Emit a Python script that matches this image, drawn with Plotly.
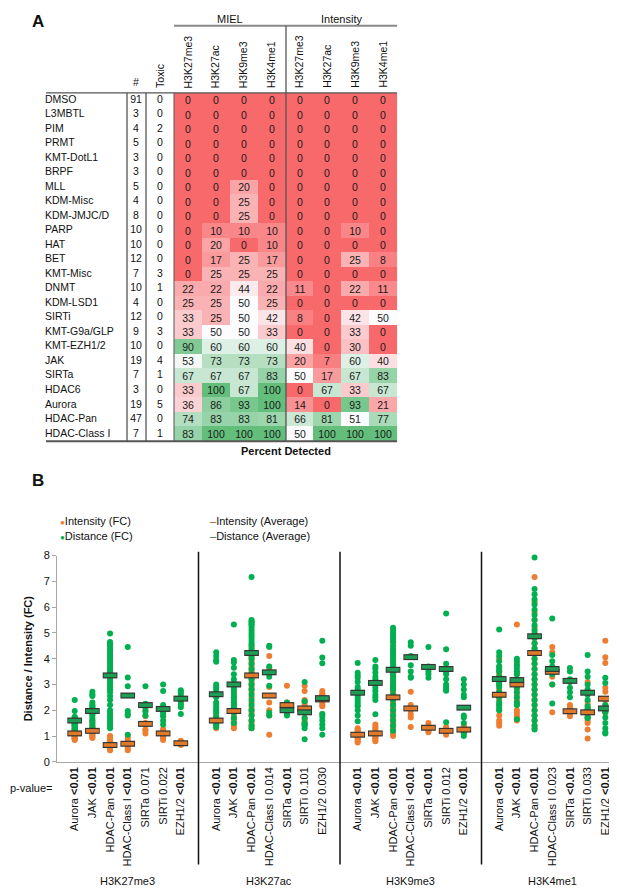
import plotly.graph_objects as go

W, H = 617, 890

# ---------------- panel A: percent detected table ----------------
row_names = ["DMSO", "L3MBTL", "PIM", "PRMT", "KMT-DotL1", "BRPF", "MLL", "KDM-Misc",
             "KDM-JMJC/D", "PARP", "HAT", "BET", "KMT-Misc", "DNMT", "KDM-LSD1", "SIRTi",
             "KMT-G9a/GLP", "KMT-EZH1/2", "JAK", "SIRTa", "HDAC6", "Aurora", "HDAC-Pan",
             "HDAC-Class I"]
n_compounds = [91, 3, 4, 5, 3, 3, 5, 4, 8, 10, 10, 12, 7, 10, 4, 12, 9, 10, 19, 7, 3, 19, 47, 7]
n_toxic = [0, 0, 2, 0, 0, 0, 0, 0, 0, 0, 0, 0, 3, 1, 0, 0, 3, 0, 4, 1, 0, 5, 0, 1]
marks = ["H3K27me3", "H3K27ac", "H3K9me3", "H3K4me1"]
miel_pct = [
    [0, 0, 0, 0], [0, 0, 0, 0], [0, 0, 0, 0], [0, 0, 0, 0], [0, 0, 0, 0], [0, 0, 0, 0],
    [0, 0, 20, 0], [0, 0, 25, 0], [0, 0, 25, 0], [0, 10, 10, 10], [0, 20, 0, 10],
    [0, 17, 25, 17], [0, 25, 25, 25], [22, 22, 44, 22], [25, 25, 50, 25], [33, 25, 50, 42],
    [33, 50, 50, 33], [90, 60, 60, 60], [53, 73, 73, 73], [67, 67, 67, 83],
    [33, 100, 67, 100], [36, 86, 93, 100], [74, 83, 83, 81], [83, 100, 100, 100],
]
intensity_pct = [
    [0, 0, 0, 0], [0, 0, 0, 0], [0, 0, 0, 0], [0, 0, 0, 0], [0, 0, 0, 0], [0, 0, 0, 0],
    [0, 0, 0, 0], [0, 0, 0, 0], [0, 0, 0, 0], [0, 0, 10, 0], [0, 0, 0, 0],
    [0, 0, 25, 8], [0, 0, 0, 0], [11, 0, 22, 11], [0, 0, 0, 0], [8, 0, 42, 50],
    [0, 0, 33, 0], [40, 0, 30, 0], [20, 7, 60, 40], [50, 17, 67, 83],
    [0, 67, 33, 67], [14, 0, 93, 21], [66, 81, 51, 77], [50, 100, 100, 100],
]

# ---------------- panel B: fold changes per class ----------------
classes = ["Aurora", "JAK", "HDAC-Pan", "HDAC-Class I", "SIRTa", "SIRTi", "EZH1/2"]

pval_h3k27me3 = ["<0.01", "<0.01", "<0.01", "<0.01", "0.071", "0.022", "<0.01"]
pval_h3k27ac = ["<0.01", "<0.01", "<0.01", "0.014", "<0.01", "0.101", "0.030"]
pval_h3k9me3 = ["<0.01", "<0.01", "<0.01", "<0.01", "<0.01", "0.012", "<0.01"]
pval_h3k4me1 = ["<0.01", "<0.01", "<0.01", "0.023", "<0.01", "0.033", "<0.01"]

int_h3k27me3 = [
    [1.25, 1.2, 1.18, 1.15, 1.12, 1.1, 1.08, 1.05, 1.02, 1.0, 0.98, 0.95, 0.92, 0.9, 0.88, 0.85, 1.1, 1.05, 1.3],
    [1.6, 1.5, 1.4, 1.35, 1.3, 1.25, 1.22, 1.2, 1.18, 1.15, 1.12, 1.1, 1.05, 1.0, 0.95, 0.92, 1.3, 1.2],
    [1.0, 0.95, 0.9, 0.85, 0.8, 0.78, 0.75, 0.72, 0.7, 0.68, 0.65, 0.63, 0.6, 0.58, 0.55, 0.52, 0.5, 0.48, 0.45, 0.62, 0.6, 0.58, 0.55, 0.7, 0.67],
    [1.0, 0.9, 0.8, 0.7, 0.6, 0.5, 0.45],
    [2.0, 1.77, 1.5, 1.45, 1.2, 1.25, 1.1],
    [1.27, 1.2, 1.15, 1.1, 1.05, 1.0, 0.95, 0.9, 0.85, 1.1, 1.2, 1.0],
    [0.82, 0.78, 0.75, 0.72, 0.7, 0.68, 0.65, 0.72, 0.7, 0.76],
]
dist_h3k27me3 = [
    [2.4, 1.97, 1.75, 1.7, 1.65, 1.62, 1.58, 1.55, 1.52, 1.5, 1.48, 1.45, 1.42, 1.4, 1.38, 1.35, 1.3, 1.25, 1.7],
    [2.72, 2.62, 2.55, 2.3, 2.2, 2.15, 2.05, 2.0, 1.95, 1.9, 1.85, 1.8, 1.7, 1.6, 1.5, 1.4, 1.3, 1.2, 2.1],
    [4.98, 4.65, 4.6, 4.55, 4.5, 4.4, 4.3, 4.2, 4.1, 4.0, 3.9, 3.8, 3.7, 3.6, 3.5, 3.45, 3.4, 3.3, 3.2, 3.1, 3.0,
     2.9, 2.8, 2.7, 2.55, 2.4, 2.2, 2.0, 1.9, 1.8, 1.7, 1.6, 1.5, 1.4, 1.3],
    [4.45, 3.27, 2.93, 1.97, 1.8, 1.85, 1.05],
    [2.93, 2.25, 2.2, 2.15, 1.8, 1.95, 2.1],
    [3.0, 2.75, 2.1, 2.05, 2.0, 1.95, 1.77, 1.6, 1.45, 1.8, 2.2, 1.9],
    [2.78, 2.7, 2.6, 2.5, 2.45, 2.35, 2.25, 2.12, 1.85, 2.2],
]
int_avg_h3k27me3 = [1.1, 1.2, 0.65, 0.7, 1.47, 1.1, 0.72]
dist_avg_h3k27me3 = [1.6, 1.97, 3.35, 2.57, 2.2, 2.05, 2.45]

int_h3k27ac = [
    [2.0, 1.9, 1.8, 1.7, 1.65, 1.6, 1.55, 1.5, 1.45, 1.4, 1.35, 1.3, 1.6, 1.55, 1.5],
    [2.3, 2.2, 2.1, 2.05, 2.0, 1.95, 1.9, 1.8, 1.7, 1.6, 1.5, 1.4, 1.3, 2.5, 2.7],
    [4.5, 4.3, 4.1, 4.0, 3.9, 3.8, 3.7, 3.6, 3.5, 3.45, 3.4, 3.3, 3.2, 3.1, 3.0, 2.9, 2.8, 2.7, 2.5, 2.3,
     2.1, 2.0, 1.9, 1.8, 1.6, 1.5, 1.4, 1.3],
    [4.1, 3.6, 2.9, 2.0, 1.8, 1.05, 2.3],
    [2.95, 2.3, 2.2, 2.1, 2.0, 1.9, 1.95],
    [2.95, 2.75, 2.4, 2.1, 1.9, 1.7, 1.6, 1.5, 1.45, 2.0, 2.2, 2.3],
    [2.75, 2.65, 2.55, 2.5, 2.3, 2.2, 2.15, 1.85, 2.4, 2.6],
]
dist_h3k27ac = [
    [4.25, 4.1, 3.95, 3.88, 3.0, 2.9, 2.8, 2.7, 2.6, 2.5, 2.3, 2.2, 2.1, 2.0, 1.9, 1.75, 1.6, 1.45, 1.35],
    [5.33, 3.95, 3.85, 3.65, 3.4, 3.2, 3.05, 2.95, 2.85, 2.75, 2.6, 2.5, 2.4, 2.3, 2.2, 2.1, 1.9, 1.7, 1.5],
    [7.17, 5.5, 5.45, 5.4, 5.35, 5.3, 5.2, 5.1, 5.0, 4.9, 4.8, 4.7, 4.6, 4.5, 4.4, 4.3, 4.2, 4.1, 4.0, 3.8,
     3.6, 3.4, 3.2, 3.0, 2.8, 2.6, 2.4, 2.2, 2.0, 1.8, 1.6, 1.4, 1.3],
    [4.5, 4.45, 3.7, 3.3, 2.95, 1.9, 1.8],
    [2.3, 2.1, 2.0, 1.95, 1.9, 1.85, 1.8],
    [3.1, 2.35, 2.0, 1.95, 1.9, 1.45, 1.4, 1.3, 0.87, 1.5, 1.7, 2.05],
    [4.7, 4.05, 3.82, 2.45, 1.75, 1.6, 1.45, 1.3, 1.05, 1.85],
]
int_avg_h3k27ac = [1.6, 1.97, 3.35, 2.57, 2.2, 2.07, 2.42]
dist_avg_h3k27ac = [2.62, 3.0, 4.22, 3.47, 2.0, 1.92, 2.47]

int_h3k9me3 = [
    [1.25, 1.2, 1.15, 1.1, 1.05, 1.0, 0.95, 0.9, 0.85, 0.8, 0.75, 1.1, 1.05, 1.0, 1.3],
    [1.45, 1.35, 1.3, 1.2, 1.15, 1.1, 1.05, 1.0, 0.95, 0.9, 0.85, 0.8, 1.1, 1.0],
    [3.6, 3.4, 3.2, 3.0, 2.9, 2.8, 2.7, 2.6, 2.5, 2.4, 2.3, 2.2, 2.1, 2.0, 1.9, 1.8, 1.7, 1.6, 1.5, 1.4,
     1.3, 1.2, 1.1, 1.0, 2.6, 2.4],
    [2.72, 2.0, 1.84, 1.72, 1.35, 2.1, 2.2],
    [1.5, 1.4, 1.35, 1.3, 1.25, 1.2, 1.15],
    [1.35, 1.3, 1.25, 1.2, 1.18, 1.15, 1.1, 1.05, 1.2, 1.25, 1.15, 1.3],
    [1.4, 1.35, 1.3, 1.25, 1.2, 1.15, 1.1, 1.3, 1.25, 1.2],
]
dist_h3k9me3 = [
    [3.83, 3.45, 3.35, 3.25, 3.1, 2.9, 2.8, 2.7, 2.6, 2.5, 2.4, 2.3, 2.2, 2.15, 1.57, 2.0, 1.8],
    [3.95, 3.7, 3.6, 3.45, 3.3, 3.2, 3.0, 2.87, 2.75, 2.6, 2.5, 2.4, 1.84, 3.1],
    [5.2, 5.1, 5.0, 4.9, 4.8, 4.7, 4.64, 4.5, 4.4, 4.3, 4.2, 4.1, 4.0, 3.9, 3.8, 3.7, 3.6, 3.5, 3.4, 3.3,
     3.2, 3.1, 3.0, 2.9, 2.8, 2.6, 2.4, 2.2, 2.0, 1.8, 1.6, 1.4, 1.2],
    [4.64, 4.5, 4.1, 3.75, 3.5, 3.3, 3.26],
    [4.45, 3.7, 3.65, 3.5, 3.4, 3.26, 3.6],
    [5.75, 4.37, 3.6, 3.0, 2.9, 2.76, 1.53, 3.2, 3.4, 3.8, 3.5, 2.8],
    [3.2, 3.0, 2.8, 2.6, 2.5, 1.8, 1.72, 1.5, 1.1, 1.0],
]
int_avg_h3k9me3 = [1.05, 1.1, 2.5, 2.07, 1.32, 1.2, 1.25]
dist_avg_h3k9me3 = [2.68, 3.06, 3.57, 4.06, 3.68, 3.6, 2.1]

int_h3k4me1 = [
    [4.0, 3.7, 3.5, 3.2, 3.0, 2.8, 2.6, 2.4, 2.2, 2.0, 1.8, 1.6, 1.5, 1.4, 2.5, 2.7, 3.4],
    [5.33, 3.8, 3.5, 3.2, 3.0, 2.8, 2.6, 2.4, 2.2, 2.0, 1.9, 1.8, 1.7, 1.6, 3.4],
    [7.17, 6.2, 5.8, 5.5, 5.2, 5.0, 4.8, 4.6, 4.4, 4.2, 4.0, 3.8, 3.6, 3.4, 3.2, 3.0, 2.8, 2.6, 2.4, 2.2,
     2.0, 1.8, 1.6, 1.4, 1.3],
    [4.45, 4.25, 3.6, 3.5, 3.3, 1.92, 3.0],
    [2.2, 2.1, 2.0, 1.95, 1.77, 1.85, 2.05],
    [3.1, 2.34, 2.1, 1.9, 1.5, 1.25, 0.9, 1.7, 2.0, 1.8, 2.2, 1.6],
    [4.7, 4.06, 3.83, 2.87, 2.72, 2.4, 2.2, 2.0, 1.9, 2.1],
]
dist_h3k4me1 = [
    [5.13, 4.25, 4.1, 3.9, 3.7, 3.5, 3.3, 3.1, 2.9, 2.7, 2.5, 2.3, 2.2, 2.1, 2.0, 3.6, 3.0],
    [4.0, 3.9, 3.75, 3.64, 3.4, 3.2, 3.0, 2.87, 2.7, 2.5, 2.3, 2.2, 1.65, 3.5],
    [7.93, 6.7, 6.5, 6.3, 6.1, 5.9, 5.7, 5.5, 5.3, 5.1, 4.95, 4.8, 4.6, 4.4, 4.2, 4.0, 3.8, 3.6, 3.4, 3.2,
     3.0, 2.8, 2.6, 2.4, 2.2, 2.0, 1.8, 1.6, 1.4, 1.25],
    [5.56, 4.14, 3.9, 3.7, 3.4, 3.0, 2.26],
    [3.64, 3.5, 3.2, 2.87, 2.7, 2.5, 3.1],
    [4.14, 3.3, 3.0, 2.8, 2.6, 2.15, 2.03, 1.72, 1.7, 2.0, 3.5, 2.4],
    [3.26, 3.06, 1.92, 1.72, 1.5, 1.3, 1.15, 1.1, 2.0, 2.2],
]
int_avg_h3k4me1 = [2.6, 3.0, 4.22, 3.49, 1.96, 1.92, 2.45]
dist_avg_h3k4me1 = [3.21, 3.17, 4.87, 3.6, 3.14, 2.68, 2.07]

# ---------------- styling ----------------
FONT = "Liberation Sans, Arial, sans-serif"
ORANGE = "#ED7D31"
GREEN = "#00B050"
ORANGE_AVG = "#E07A2A"
GREEN_AVG = "#1E9E55"
OUTLINE = "#333333"


def px(x):
    return x / W


def py(y):
    return 1 - y / H


fig = go.Figure()

# ---- table geometry (pixels) ----
CW = 27.875          # column width
COL0 = 180           # centre of first value column
ROW_TOP, ROW_BOT = 80, 433


def col_px(i):
    return COL0 + CW * i


z = [m + it for m, it in zip(miel_pct, intensity_pct)]
fig.add_trace(go.Heatmap(
    z=z, x=list(range(8)), y=row_names,
    colorscale=[[0, "#F8696B"], [0.5, "#FCFCFF"], [1, "#63BE7B"]],
    zmin=0, zmax=100, showscale=False,
    texttemplate="%{z}", textfont=dict(size=10.5, color="#1a1a1a", family=FONT),
    hoverinfo="skip", xaxis="x", yaxis="y",
))
fig.add_trace(go.Scatter(
    x=[(37 - COL0) / CW] * len(row_names), y=row_names, text=row_names,
    mode="text", textposition="middle right",
    textfont=dict(size=10.5, color="#111", family=FONT),
    showlegend=False, hoverinfo="skip", xaxis="x", yaxis="y",
))
fig.add_trace(go.Scatter(
    x=[(128 - COL0) / CW] * len(row_names), y=row_names, text=[str(v) for v in n_compounds],
    mode="text", textfont=dict(size=10.5, color="#111", family=FONT),
    showlegend=False, hoverinfo="skip", xaxis="x", yaxis="y",
))
fig.add_trace(go.Scatter(
    x=[(152 - COL0) / CW] * len(row_names), y=row_names, text=[str(v) for v in n_toxic],
    mode="text", textfont=dict(size=10.5, color="#111", family=FONT),
    showlegend=False, hoverinfo="skip", xaxis="x", yaxis="y",
))

# ---- panel B scatter ----
int_sets = [int_h3k27me3, int_h3k27ac, int_h3k9me3, int_h3k4me1]
dist_sets = [dist_h3k27me3, dist_h3k27ac, dist_h3k9me3, dist_h3k4me1]
int_avgs = [int_avg_h3k27me3, int_avg_h3k27ac, int_avg_h3k9me3, int_avg_h3k4me1]
dist_avgs = [dist_avg_h3k27me3, dist_avg_h3k27ac, dist_avg_h3k9me3, dist_avg_h3k4me1]
pvals = [pval_h3k27me3, pval_h3k27ac, pval_h3k9me3, pval_h3k4me1]

positions, ticktext = [], []
for g in range(4):
    for i, c in enumerate(classes):
        positions.append(8 * g + i + 1)
        p = pvals[g][i]
        if p.startswith("<"):
            ticktext.append(f"{c} <b>&lt;{p[1:]}</b>")
        else:
            ticktext.append(f"{c} {p}")


def flatten(sets):
    xs, ys = [], []
    for g, s in enumerate(sets):
        for i, vals in enumerate(s):
            xs += [8 * g + i + 1] * len(vals)
            ys += vals
    return xs, ys


def flat_avg(avgs):
    ys = []
    for a in avgs:
        ys += a
    return ys


ix, iy = flatten(int_sets)
dx, dy = flatten(dist_sets)
fig.add_trace(go.Scatter(
    x=ix, y=iy, mode="markers", name="Intensity (FC)", showlegend=False,
    marker=dict(color=ORANGE, size=6), cliponaxis=False,
    xaxis="x2", yaxis="y2",
))
fig.add_trace(go.Scatter(
    x=dx, y=dy, mode="markers", name="Distance (FC)", showlegend=False,
    marker=dict(color=GREEN, size=6), cliponaxis=False,
    xaxis="x2", yaxis="y2",
))
for avgs, col, nm in [(int_avgs, ORANGE_AVG, "Intensity (Average)"),
                      (dist_avgs, GREEN_AVG, "Distance (Average)")]:
    ya = flat_avg(avgs)
    fig.add_trace(go.Scatter(
        x=positions, y=ya, mode="markers", showlegend=False, hoverinfo="skip",
        marker=dict(symbol="line-ew", size=10.5, line=dict(width=6, color=OUTLINE)),
        cliponaxis=False, xaxis="x2", yaxis="y2",
    ))
    fig.add_trace(go.Scatter(
        x=positions, y=ya, mode="markers", name=nm, showlegend=False,
        marker=dict(symbol="line-ew", size=9.2, line=dict(width=3.6, color=col)),
        cliponaxis=False, xaxis="x2", yaxis="y2",
    ))

# ---- annotations ----
ann = []


def add_text(x, y, text, size=11, bold=False, angle=0, xanchor="center", yanchor="middle",
             xref="paper"):
    ann.append(dict(
        x=x, y=y, xref=xref, yref="paper", text=f"<b>{text}</b>" if bold else text,
        showarrow=False, textangle=angle, xanchor=xanchor, yanchor=yanchor,
        font=dict(size=size, color="#111", family=FONT),
    ))


add_text(px(22), py(8), "A", size=17, bold=True, xanchor="left")
add_text(px(22), py(473), "B", size=17, bold=True, xanchor="left")
add_text(px(222), py(5), "MIEL", size=11)
add_text(px(333), py(5), "Intensity", size=11)
add_text(px(128), py(77), "#", size=10.5, yanchor="bottom")
add_text(px(152), py(77), "Toxic", size=10.5, angle=-90, yanchor="bottom")
for k in range(8):
    add_text(px(col_px(k)), py(77), marks[k % 4], size=10.5, angle=-90, yanchor="bottom")
add_text(px(278), py(443), "Percent Detected", size=11, bold=True)
add_text(px(0), py(785), "p-value=", size=11, xanchor="left")
for g in range(4):
    add_text(8 * g + 4, py(879), ["H3K27me3", "H3K27ac", "H3K9me3", "H3K4me1"][g], size=11,
             xref="x2")

# legend drawn as text keys
legend_items = [
    (50, 514, ORANGE, "●", "Intensity (FC)", 8),
    (50, 529, GREEN, "●", "Distance (FC)", 8),
    (200, 514, "#A0521D", "–", "Intensity (Average)", 11),
    (200, 529, "#1B6E3A", "–", "Distance (Average)", 11),
]
for lx, ly, col, sym, label, ssize in legend_items:
    ann.append(dict(
        x=px(lx), y=py(ly), xref="paper", yref="paper", showarrow=False,
        xanchor="left", yanchor="middle",
        text=f"<span style='color:{col};font-size:{ssize}px'>{sym}</span>{label}",
        font=dict(size=11, color="#111", family=FONT),
    ))

# ---- lines ----
shapes = []


def line(x0, y0, x1, y1, color="#444", width=1, xref="paper"):
    shapes.append(dict(type="line", xref=xref, yref="paper", x0=x0, y0=y0, x1=x1, y1=y1,
                       line=dict(color=color, width=width)))


line(px(166), py(12), px(389), py(12), color="#888", width=2)
line(px(38), py(ROW_TOP), px(389), py(ROW_TOP), color="#555", width=1.3)
line(px(38), py(ROW_BOT), px(389), py(ROW_BOT), color="#555", width=2)
line(px(119), py(ROW_TOP), px(119), py(ROW_BOT), color="#555", width=1.3)
line(px(138), py(ROW_TOP), px(138), py(ROW_BOT), color="#555", width=1.3)
line(px(166), py(ROW_TOP), px(166), py(ROW_BOT), color="#555", width=1)
line(px(278), py(12), px(278), py(ROW_BOT), color="#555", width=1.3)
for sx in [8, 16, 24]:
    line(sx, py(862), sx, py(545), color="#111", width=1.5, xref="x2")

fig.update_layout(
    width=W, height=H, margin=dict(l=0, r=0, t=0, b=0),
    paper_bgcolor="white", plot_bgcolor="white",
    font=dict(family=FONT, size=11, color="#111"),
    annotations=ann, shapes=shapes, showlegend=False,
    xaxis=dict(domain=[0, 1], range=[-COL0 / CW, (W - COL0) / CW], visible=False,
               fixedrange=True),
    yaxis=dict(domain=[py(ROW_BOT), py(ROW_TOP)], range=[23.5, -0.5], visible=False,
               type="category"),
    xaxis2=dict(domain=[px(49), px(615)], range=[0, 32], anchor="y2",
                tickvals=positions, ticktext=ticktext, tickangle=-90,
                showline=True, linecolor="#a6a6a6", linewidth=1, ticks="",
                showgrid=False, zeroline=False, tickfont=dict(size=11, color="#111")),
    yaxis2=dict(domain=[py(758), py(549)], range=[0, 8], anchor="x2", dtick=1,
                showline=True, linecolor="#a6a6a6", linewidth=1, ticks="outside",
                ticklen=4, tickcolor="#a6a6a6", showgrid=False, zeroline=False,
                tickfont=dict(size=11, color="#111"),
                title=dict(text="<b>Distance / Intensity (FC)</b>", font=dict(size=11),
                           standoff=8)),
)

fig.write_html("out.html")
